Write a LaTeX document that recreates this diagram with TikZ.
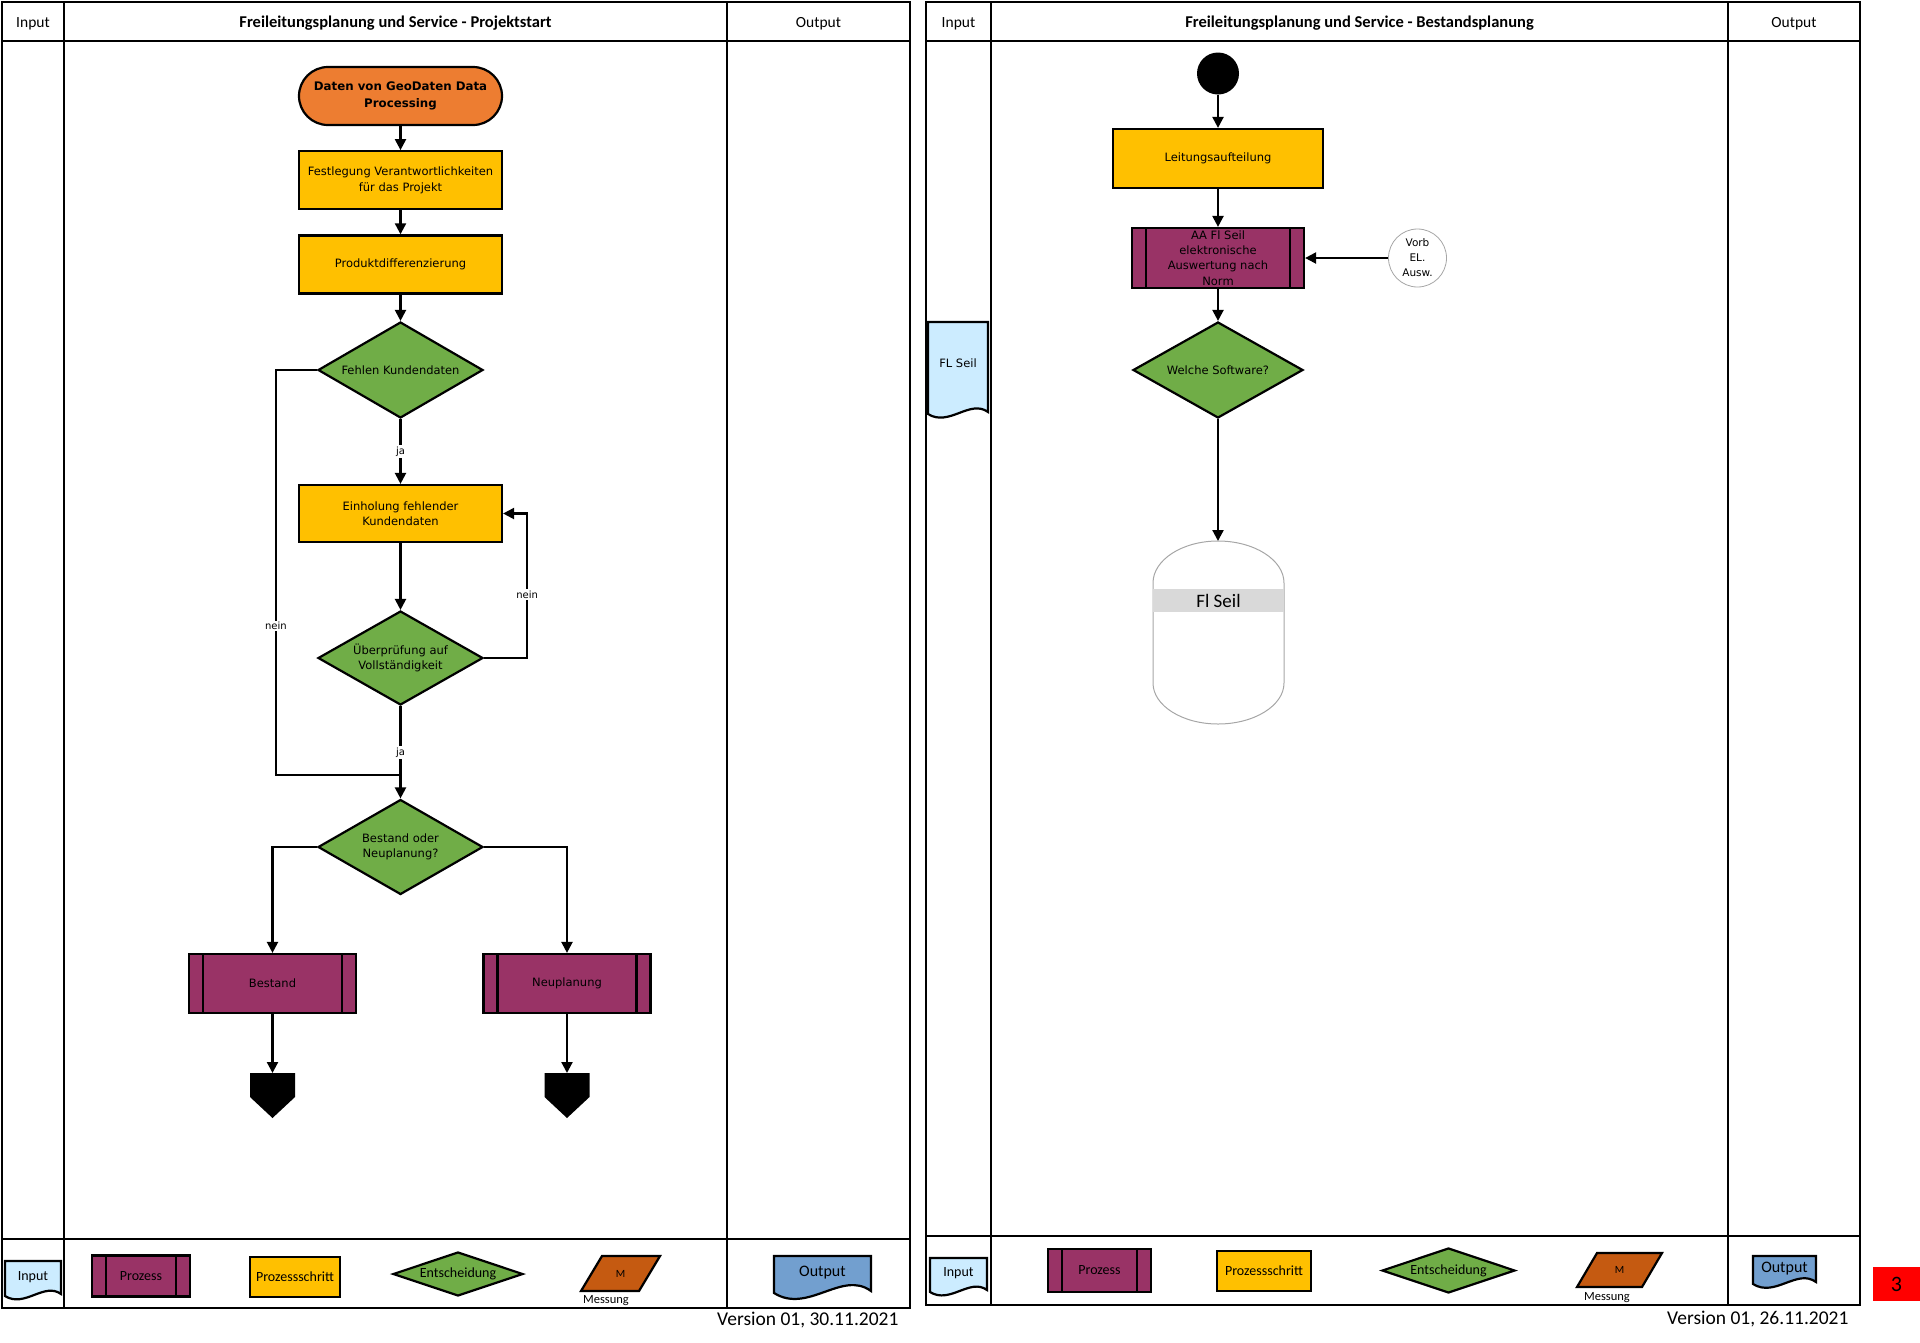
\documentclass[tikz,border=0pt]{standalone}
\usepackage{fontspec}
\setmainfont{DejaVu Sans}
\newfontfamily\calibri{Carlito}
\usetikzlibrary{arrows.meta,positioning,shapes.geometric,calc}
\definecolor{schritt}{RGB}{255,192,0}
\definecolor{prozess}{RGB}{153,51,102}
\definecolor{entscheid}{RGB}{112,173,71}
\definecolor{anfang}{RGB}{237,125,49}
\definecolor{messung}{RGB}{197,90,17}
\definecolor{eingabe}{RGB}{204,236,255}
\definecolor{ausgabe}{RGB}{114,159,207}
\definecolor{band}{RGB}{217,217,217}

\tikzset{
  linie/.style={line width=2.2pt},
  pfeil/.style={->,line width=2.2pt},
  knoten/.style={draw,line width=2.2pt,align=center,inner sep=1pt,font=\fontsize{11.5}{15.5}\selectfont},
  anfangbox/.style={knoten,fill=anfang,rounded corners=29pt,minimum width=203pt,minimum height=58pt,font=\bfseries\fontsize{11.8}{17}\selectfont},
  schrittbox/.style={knoten,fill=schritt,minimum width=203pt,minimum height=58pt},
  prozessbox/.style={knoten,fill=prozess,minimum width=167pt,minimum height=59pt,
    path picture={\draw[linie] ([xshift=14pt]path picture bounding box.north west) -- ([xshift=14pt]path picture bounding box.south west)
      ([xshift=-14pt]path picture bounding box.north east) -- ([xshift=-14pt]path picture bounding box.south east);}},
  entscheidung/.style={knoten,diamond,fill=entscheid,inner sep=0pt,aspect=1.72,minimum width=165pt,minimum height=96pt},
  marke/.style={fill=white,inner sep=1.5pt,font=\fontsize{10}{12}\selectfont},
  kopf/.style={font=\calibri\fontsize{15.5}{18}\selectfont},
  legende/.style={font=\calibri\fontsize{14}{16}\selectfont}
}

% document shape with wavy bottom: name, x1, y1, x2, y2, fill, font, text
\newcommand{\dokument}[8]{%
  \pgfmathsetmacro\dokbreite{#4-#2}
  \filldraw[fill=#6,linie] (#2,#3) -- (#4,#3) -- (#4,#5-2)
    .. controls +({-0.3*\dokbreite},{-0.22*\dokbreite}) and +({0.35*\dokbreite},{0.22*\dokbreite}) .. (#2,#5) -- cycle;
  \node (#1) [font=#7] at ({(#2+#4)/2},{#3+0.45*(#5-#3)}) {#8};
}

\begin{document}
\begin{tikzpicture}[x=1pt, y=-1pt, >={Triangle[length=11pt,width=11pt]}]
\useasboundingbox (0,0) rectangle (1920,1342);

% Projektstart
\draw[line width=2.4pt] (2,2) rectangle (910,1308);
\draw[line width=2.4pt] (2,41) -- (910,41) (64,2) -- (64,1308) (727,2) -- (727,1308) (2,1239) -- (910,1239);
\node (kopfInA) [kopf] at (33,23.5) {Input};
\node (kopfA) [kopf,font=\calibri\bfseries\fontsize{16.5}{18}\selectfont] at (395.5,23.5) {Freileitungsplanung und Service - Projektstart};
\node (kopfOutA) [kopf] at (818.5,23.5) {Output};

\node (daten) [anfangbox] at (400.5,96) {Daten von GeoDaten Data\\Processing};
\node (festlegung) [schrittbox,below=24pt of daten] {Festlegung Verantwortlichkeiten\\für das Projekt};
\node (produkt) [schrittbox,below=24pt of festlegung] {Produktdifferenzierung};
\node (fehlen) [entscheidung] at (400.5,370) {Fehlen Kundendaten};
\node (einholung) [schrittbox,minimum height=57pt] at (400.5,513.5) {Einholung fehlender\\Kundendaten};
\node (pruefung) [entscheidung,minimum height=94pt] at (400.5,658) {Überprüfung auf\\Vollständigkeit};
\node (art) [entscheidung,minimum height=95pt] at (400.5,847) {Bestand oder\\Neuplanung?};
\node (bestand) [prozessbox] at (272.5,983.5) {Bestand};
\node (neu) [prozessbox] at (567,983.5) {Neuplanung};
\coordinate (treffen) at (400.5,775);
\coordinate (endeA) at (272.5,1073);
\coordinate (endeB) at (567,1073);
\fill (endeA) ++(-22.5,0) -- ++(45,0) -- ++(0,24) -- ++(-22.5,21) -- ++(-22.5,-21) -- cycle;
\fill (endeB) ++(-22.5,0) -- ++(45,0) -- ++(0,24) -- ++(-22.5,21) -- ++(-22.5,-21) -- cycle;

% Arrows
\draw[pfeil] (daten) -- (festlegung);
\draw[pfeil] (festlegung) -- (produkt);
\draw[pfeil] (produkt) -- (fehlen);
\draw[pfeil] (fehlen) -- node[marke]{ja} (einholung);
\draw[pfeil] (einholung) -- (pruefung);
\draw[pfeil] (pruefung.east) -- ++(43,0) |- node[marke,pos=0.22]{nein} (einholung.east);
\draw[linie] (fehlen.west) -- ++(-41,0) |- node[marke,pos=0.316]{nein} (treffen);
\draw[pfeil] (pruefung) -- node[marke]{ja} (art);
\draw[pfeil] (art.west) -| (bestand.north);
\draw[pfeil] (art.east) -| (neu.north);
\draw[pfeil] (bestand) -- (endeA);
\draw[pfeil] (neu) -- (endeB);

% Legende links
\dokument{legInA}{5}{1261}{61}{1296}{eingabe}{\calibri\fontsize{14}{16}\selectfont}{Input}
\node (legProzA) [prozessbox,minimum width=98pt,minimum height=41pt,legende] at (141,1276) {Prozess};
\node (legSchrittA) [schrittbox,minimum width=90pt,minimum height=40pt,legende] at (295,1277) {Prozessschritt};
\node (legEntA) [entscheidung,aspect=3,minimum width=130pt,minimum height=44pt,legende] at (458,1274) {Entscheidung};
\filldraw[fill=messung,linie] (602,1256) -- (660,1256) -- (639,1291) -- (581,1291) -- cycle;
\node (legMA) [font=\calibri\fontsize{11}{13}\selectfont] at (620.5,1273.5) {M};
\node (legMessA) [font=\calibri\fontsize{12.5}{14}\selectfont] at (606,1301) {Messung};
\dokument{legOutA}{774}{1256}{871}{1293}{ausgabe}{\calibri\fontsize{16}{18}\selectfont}{Output}
\node (versionA) [anchor=east,font=\calibri\fontsize{19.5}{22}\selectfont] at (902,1320) {Version 01, 30.11.2021};

% Bestandsplanung
\draw[line width=2.4pt] (926,2) rectangle (1860,1305);
\draw[line width=2.4pt] (926,41) -- (1860,41) (991,2) -- (991,1305) (1728,2) -- (1728,1305) (926,1236) -- (1860,1236);
\node (kopfInB) [kopf] at (958.5,23.5) {Input};
\node (kopfB) [kopf,font=\calibri\bfseries\fontsize{16.5}{18}\selectfont] at (1359.5,23.5) {Freileitungsplanung und Service - Bestandsplanung};
\node (kopfOutB) [kopf] at (1794,23.5) {Output};

\node (punkt) [circle,fill=black,minimum size=42pt,inner sep=0pt] at (1218,73.5) {};
\node (leitung) [schrittbox,minimum width=210pt,minimum height=59pt] at (1218,158.5) {Leitungsaufteilung};
\node (auswertung) [prozessbox,minimum width=172pt,minimum height=60pt,inner ysep=0pt,font=\fontsize{11.5}{15.3}\selectfont] at (1218,258) {AA Fl Seil\\elektronische\\Auswertung nach\\Norm};
\node (vorb) [circle,draw=gray!70,line width=0.8pt,fill=white,minimum size=58pt,inner sep=0pt,align=center,font=\fontsize{10.5}{15}\selectfont] at (1417.5,258) {Vorb\\EL.\\Ausw.};
\node (software) [entscheidung,minimum width=170pt] at (1218,370) {Welche Software?};
\dokument{flinput}{928}{322}{988}{414}{eingabe}{\fontsize{11.5}{14}\selectfont}{FL Seil}
\draw[gray!70,line width=1pt] (1153,583) .. controls (1153,559.8) and (1182.3,541) .. (1218,541)
  .. controls (1254.2,541) and (1284,559.8) .. (1284,583) -- (1284,683)
  .. controls (1284,705.6) and (1254.2,724) .. (1218,724)
  .. controls (1182.3,724) and (1153,705.6) .. (1153,683) -- cycle;
\node (flseil) [fill=band,minimum width=131pt,minimum height=23pt,inner sep=0pt,font=\calibri\fontsize{19}{22}\selectfont] at (1218.5,600.5) {Fl Seil};
\coordinate (speicher) at (1218,541);

% Arrows
\draw[pfeil] (punkt) -- (leitung);
\draw[pfeil] (leitung) -- (auswertung);
\draw[pfeil] (vorb) -- (auswertung);
\draw[pfeil] (auswertung) -- (software);
\draw[pfeil] (software) -- (speicher);

% Legende rechts
\dokument{legInB}{930}{1258}{987}{1292}{eingabe}{\calibri\fontsize{14}{16}\selectfont}{Input}
\node (legProzB) [prozessbox,minimum width=103pt,minimum height=43pt,legende] at (1099.5,1270.5) {Prozess};
\node (legSchrittB) [schrittbox,minimum width=94pt,minimum height=40pt,legende] at (1264,1271) {Prozessschritt};
\node (legEntB) [entscheidung,aspect=3,minimum width=133pt,minimum height=45pt,legende] at (1448.5,1270.5) {Entscheidung};
\filldraw[fill=messung,linie] (1597,1253) -- (1662,1253) -- (1642,1287) -- (1577,1287) -- cycle;
\node (legMB) [font=\calibri\fontsize{11}{13}\selectfont] at (1619.5,1270) {M};
\node (legMessB) [font=\calibri\fontsize{12.5}{14}\selectfont] at (1607,1298) {Messung};
\dokument{legOutB}{1753}{1256}{1816}{1284}{ausgabe}{\calibri\fontsize{16}{18}\selectfont}{Output}
\node (versionB) [anchor=east,font=\calibri\fontsize{19.5}{22}\selectfont] at (1852,1319) {Version 01, 26.11.2021};

\node (seite) [fill=red,minimum width=47pt,minimum height=34pt,font=\calibri\fontsize{22}{24}\selectfont] at (1896.5,1284) {3};
\end{tikzpicture}
\end{document}
